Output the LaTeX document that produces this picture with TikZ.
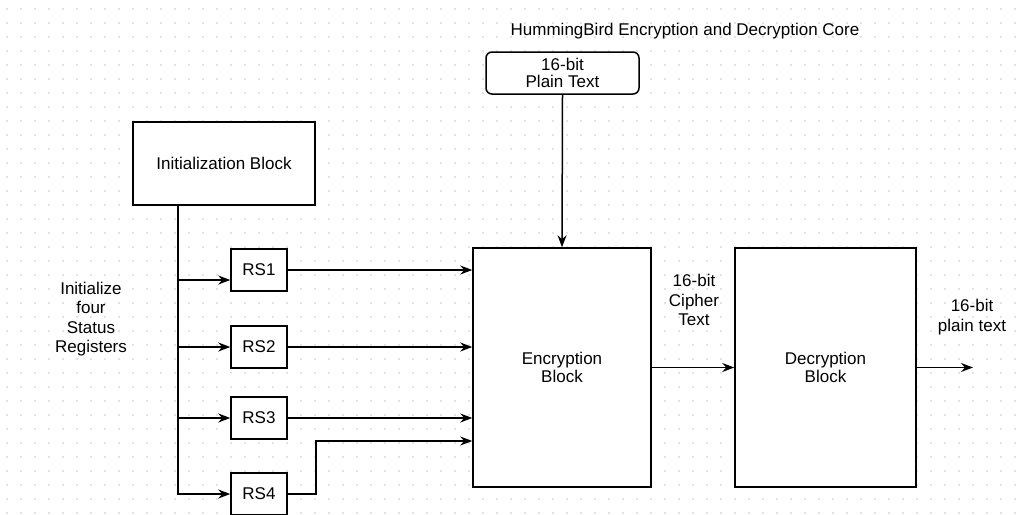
\documentclass[tikz,border=0pt]{standalone}
\usepackage{fontspec}
\setmainfont{Liberation Sans}
\usetikzlibrary{arrows.meta}
\tikzstyle{block}=[rectangle,draw,line width=1.5pt,align=center,inner sep=2pt]
\tikzstyle{rsbox}=[block,minimum width=56pt,minimum height=42pt]
\tikzstyle{label}=[align=center,inner sep=0pt]
\tikzstyle{edge} = [draw,line width=1.5pt,-]
\tikzstyle{arrow edge} = [edge,-{Stealth[length=12pt,width=9pt]}]

\begin{document}
\begin{tikzpicture}[x=1pt,y=-1pt,font=\fontsize{17pt}{19.5pt}\selectfont]
        \useasboundingbox (0,0) rectangle (1016,514);
        \foreach \x in {7,21,...,1015}{
            \foreach \y in {9,23,...,513}{
                \fill[black!22] (\x,\y) circle (0.8);
            }
        }
        \node[label] (title) at (685,31) {HummingBird Encryption and Decryption Core};
        \node[block,rounded corners=6pt,minimum width=153pt,minimum height=42pt,fill=white] (plain) at (562.5,73) {16-bit\\[-3pt]Plain Text};
        \node[block,minimum width=182pt,minimum height=83pt,fill=white] (init) at (224,163.5) {Initialization Block};
        \node[rsbox,fill=white] (rs1) at (259,270) {RS1};
        \node[rsbox,fill=white] (rs2) at (259,347) {RS2};
        \node[rsbox,fill=white] (rs3) at (259,418) {RS3};
        \node[rsbox,fill=white] (rs4) at (259,494) {RS4};
        \node[block,minimum width=178pt,minimum height=239pt,fill=white] (enc) at (562,367.5) {Encryption\\[-1pt]Block};
        \node[block,minimum width=181pt,minimum height=239pt,fill=white] (dec) at (825.5,367.5) {Decryption\\[-1pt]Block};
        \node[label] (initnote) at (91,319) {Initialize\\four\\Status\\Registers};
        \node[label] (ciphernote) at (694,300) {16-bit\\Cipher\\Text};
        \node[label] (outnote) at (972,317) {16-bit\\plain text};
        \coordinate (tap) at ([xshift=-46pt]init.south);
        \coordinate (out) at (973,367.5);

        \path[arrow edge] (tap) -- (tap |- 0,280) -- ([yshift=-10pt]rs1.west);
        \path[arrow edge] (tap) -- (tap |- rs2.west) -- (rs2.west);
        \path[arrow edge] (tap) -- (tap |- rs3.west) -- (rs3.west);
        \path[arrow edge] (tap) -- (tap |- rs4.west) -- (rs4.west);
        \path[arrow edge] (rs1.east) -- (rs1.east -| enc.west);
        \path[arrow edge] (rs2.east) -- (rs2.east -| enc.west);
        \path[arrow edge] (rs3.east) -- (rs3.east -| enc.west);
        \path[arrow edge] (rs4.east) -- ++(28,0) |- ([yshift=-73.5pt]enc.west);
        \path[arrow edge] (plain.south) -- (enc.north);
        \path[arrow edge] (enc.east) -- (dec.west);
        \path[arrow edge] (dec.east) -- (out);
    \end{tikzpicture}
\end{document}
